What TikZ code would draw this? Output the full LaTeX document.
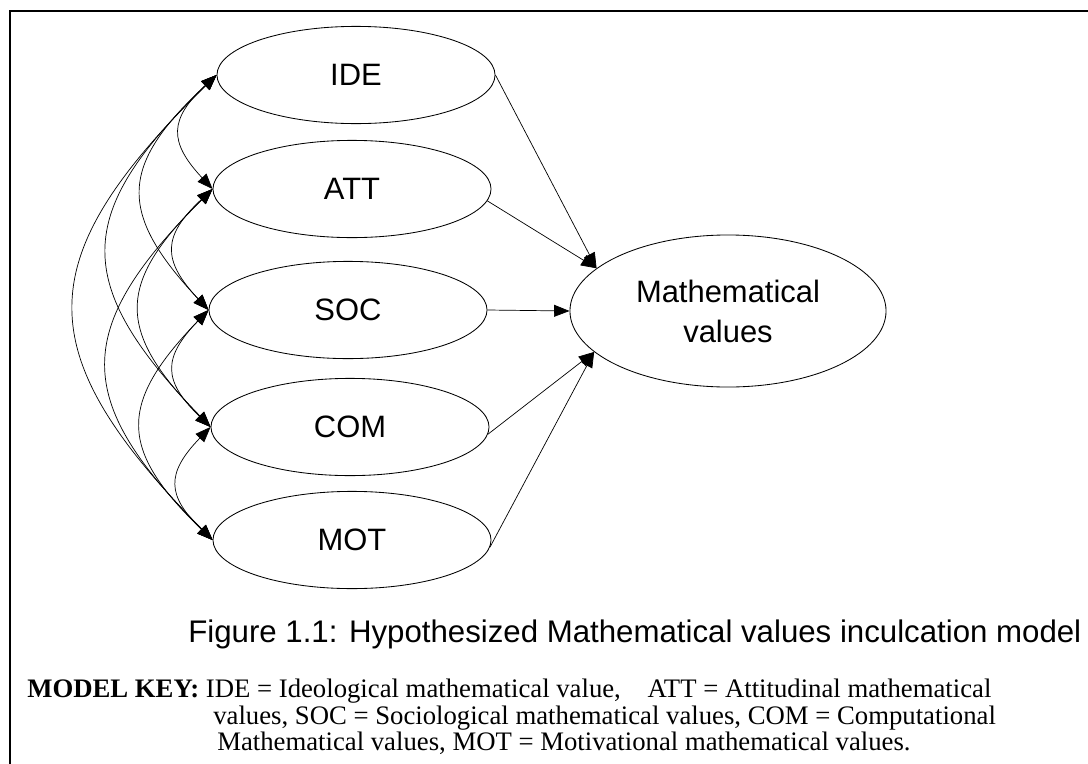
\documentclass[tikz,border=0pt]{standalone}
\usepackage{fontspec}
\setmainfont{Liberation Serif}
\newfontfamily\arialfont{Liberation Sans}
\usetikzlibrary{shapes.geometric}
\usetikzlibrary{arrows.meta}

\tikzset{
  latent/.style={draw, ellipse, line width=0.6pt, minimum width=6.95cm, minimum height=2.43cm, inner sep=0pt, font=\arialfont\fontsize{22}{28.5}\selectfont},
  cov/.style={<->, line width=0.5pt, bend right=45, looseness=1.45},
  effect/.style={->, line width=0.5pt},
  keytext/.style={anchor=base west, inner sep=0pt, font=\fontsize{19}{23}\selectfont}
}

\begin{document}
\begin{tikzpicture}[x=0.025cm, y=-0.025cm, >={Triangle[length=11pt,width=8.5pt]}]

    \useasboundingbox (0,0) rectangle (1088,764);
    \draw[line width=1.6pt] (10,775) -- (10,11) -- (1100,11);

    % value dimensions
    \node[latent] (ide) at (356,75) {IDE};
    \node[latent] (att) at (352,189) {ATT};
    \node[latent] (soc) at (348,310) {SOC};
    \node[latent] (com) at (350,427) {COM};
    \node[latent] (mot) at (352,540) {MOT};
    \node[latent, minimum width=7.9cm, minimum height=3.8cm, align=center] (math) at (728,311) {Mathematical\\values};

    % covariances
    \draw[cov] (ide.west) to (att.west);
    \draw[cov] (ide.west) to (soc.west);
    \draw[cov] (ide.west) to (com.west);
    \draw[cov] (ide.west) to (mot.west);
    \draw[cov] (att.west) to (soc.west);
    \draw[cov] (att.west) to (com.west);
    \draw[cov] (att.west) to (mot.west);
    \draw[cov] (soc.west) to (com.west);
    \draw[cov] (soc.west) to (mot.west);
    \draw[cov] (com.west) to (mot.west);

    \draw[effect] (ide.east) -- (math.162);
    \draw[effect] (att.-5) -- (math.162);
    \draw[effect] (soc.east) -- (math.west);
    \draw[effect] (com.-3) -- (math.197);
    \draw[effect] (mot.-3) -- (math.197);

    \node[anchor=base west, inner sep=0pt, font=\arialfont\fontsize{22.2}{27}\selectfont] (caption) at (188,642) {Figure 1.1: Hypothesized Mathematical values inculcation model};

    \node[keytext] (key1) at (27,697) {\textbf{MODEL KEY:} IDE = Ideological mathematical value,\quad ATT = Attitudinal mathematical};
    \node[keytext] (key2) at (213,724) {values, SOC = Sociological mathematical values, COM = Computational};
    \node[keytext] (key3) at (217,750) {Mathematical values, MOT = Motivational mathematical values.};

\end{tikzpicture}
\end{document}
